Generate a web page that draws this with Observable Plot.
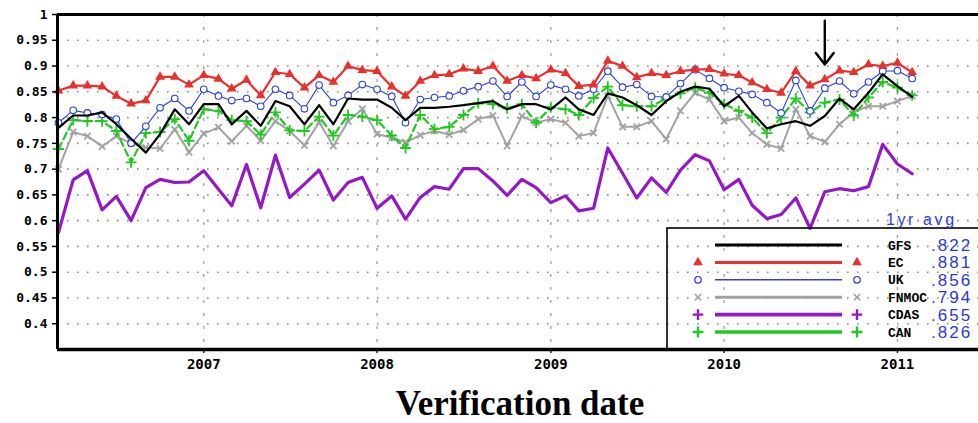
<!DOCTYPE html>
<html><head><meta charset="utf-8">
<script src="https://cdn.jsdelivr.net/npm/d3@7"></script>
<script src="https://cdn.jsdelivr.net/npm/@observablehq/plot@0.6"></script>
<style>
html,body{margin:0;padding:0;background:#fff;overflow:hidden;width:978px;height:423px}
#wrap{position:relative;width:978px;height:423px;overflow:hidden}
#chart{position:absolute;left:0;top:0;width:1000px}
#chart svg{max-width:none !important}
#legend{position:absolute;left:0;top:0;pointer-events:none}
#xlabel{position:absolute;left:0;width:1040px;top:386px;height:35px;text-align:center;font:bold 35px "Liberation Serif",serif;line-height:35px;color:#000;white-space:nowrap}
g[aria-label="y-axis tick label"] text{font-weight:bold;font-size:13px;font-family:"DejaVu Sans Mono",monospace}
g[aria-label="x-axis tick label"] text{font-weight:bold;font-size:14px;font-family:"DejaVu Sans Mono",monospace}
</style></head><body>
<div id="wrap"><div id="chart"></div><svg id="legend" width="978" height="423"></svg><div id="xlabel"></div></div>
<script>
// ---------- data ----------
const series = ["GFS", "EC", "UK", "FNMOC", "CDAS", "CAN"];
const avgValues = [".822", ".881", ".856", ".794", ".655", ".826"];
const xTickYears = [2007, 2008, 2009, 2010, 2011];
const yTicks = [0.4, 0.45, 0.5, 0.55, 0.6, 0.65, 0.7, 0.75, 0.8, 0.85, 0.9, 0.95, 1];
const xAxisLabel = "Verification date";
const legendHeader = "1yr avg";
const arrowMonth = [2010, 7];

const gfs = [.780,.804,.804,.810,.787,.759,.732,.768,.816,.787,
 .826,.826,.787,.813,.784,.832,.822,.787,.824,.787,
 .837,.835,.835,.819,.795,.819,.819,.821,.824,.828,
 .832,.816,.826,.826,.816,.839,.816,.805,.847,.839,
 .824,.805,.832,.850,.860,.856,.822,.842,.810,.779,
 .787,.793,.784,.803,.837,.816,.848,.884,.861,.840];
const ec = [.852,.862,.862,.860,.842,.827,.833,.879,.879,.864,
 .882,.875,.856,.873,.843,.888,.884,.858,.882,.869,
 .900,.892,.890,.860,.842,.871,.882,.884,.895,.890,
 .900,.871,.882,.876,.893,.886,.861,.864,.910,.900,
 .878,.886,.882,.890,.893,.894,.885,.882,.868,.855,
 .848,.890,.862,.874,.891,.888,.903,.900,.906,.888];
const uk = [.790,.814,.809,.806,.797,.750,.783,.819,.837,.813,
 .855,.842,.833,.837,.822,.855,.843,.817,.863,.829,
 .843,.864,.855,.841,.790,.835,.839,.842,.852,.860,
 .871,.841,.869,.841,.863,.855,.842,.855,.890,.859,
 .864,.841,.840,.866,.893,.876,.858,.851,.845,.829,
 .809,.872,.813,.857,.871,.846,.869,.890,.891,.876];
const fnmoc = [.700,.772,.764,.744,.764,.750,.742,.740,.777,.733,
 .769,.781,.754,.784,.755,.793,.774,.746,.791,.745,
 .793,.817,.768,.761,.752,.766,.774,.767,.776,.797,
 .804,.745,.803,.790,.797,.790,.764,.770,.842,.782,
 .782,.793,.758,.813,.848,.835,.793,.800,.770,.748,
 .740,.816,.764,.753,.787,.811,.822,.822,.832,.842];
const cdas = [.577,.679,.697,.621,.647,.600,.664,.680,.674,.675,
 .697,.661,.629,.709,.625,.727,.645,.671,.698,.640,
 .674,.684,.624,.648,.603,.645,.666,.661,.701,.701,
 .677,.649,.680,.664,.635,.648,.619,.624,.741,.692,
 .644,.683,.655,.698,.728,.716,.660,.680,.630,.604,
 .612,.644,.585,.656,.662,.658,.666,.748,.710,.691];
const can = [.739,.795,.793,.793,.774,.713,.770,.772,.797,.755,
 .816,.813,.795,.793,.767,.810,.775,.774,.802,.765,
 .805,.802,.795,.765,.741,.805,.778,.782,.805,.828,
 .826,.818,.826,.790,.820,.816,.805,.838,.860,.824,
 .822,.822,.837,.847,.858,.848,.826,.813,.800,.770,
 .800,.837,.810,.829,.835,.804,.839,.869,.858,.843];
const allValues = [gfs, ec, uk, fnmoc, cdas, can];

// ---------- build ----------
const months = d3.utcMonth.range(new Date(Date.UTC(2006, 2, 1)), new Date(Date.UTC(2011, 2, 1)));
const table = [];
series.forEach((s, k) => allValues[k].forEach((v, i) => table.push({series: s, date: months[i], value: v})));
const of = s => table.filter(d => d.series === s);
const xTicks = xTickYears.map(y => new Date(Date.UTC(y, 0, 1)));
const xDomain = [new Date(Date.UTC(2006, 1, 27)), new Date(Date.UTC(2011, 6, 16))];

const style = {
  GFS:   {color: "#000000", width: 2.2},
  EC:    {color: "#e8302c", width: 2.2, symbol: "triangle", r: 3.6, fill: true},
  UK:    {color: "#2840dc", width: 1.1, symbol: "circle", r: 3.3},
  FNMOC: {color: "#a2a2a2", width: 2, symbol: "times", r: 3},
  CDAS:  {color: "#9418c8", width: 3.2, symbol: "plus", r: 3.5},
  CAN:   {color: "#22c822", width: 2.2, symbol: "plus", r: 3.6, dash: "7,4"}
};

const lineMarks = [];
for (const s of ["FNMOC", "CDAS", "CAN", "UK", "EC", "GFS"]) {
  const st = style[s];
  lineMarks.push(Plot.line(of(s), {x: "date", y: "value", stroke: st.color, strokeWidth: st.width,
    strokeDasharray: st.dash || null, curve: "linear"}));
  if (st.symbol && s !== "CDAS") {
    if (st.fill) lineMarks.push(Plot.dot(of(s), {x: "date", y: "value", symbol: st.symbol, r: st.r, fill: st.color, stroke: "none"}));
    else if (st.symbol === "circle") lineMarks.push(Plot.dot(of(s), {x: "date", y: "value", symbol: "circle", r: st.r, fill: "white", stroke: st.color, strokeWidth: 1.1}));
    else lineMarks.push(Plot.dot(of(s), {x: "date", y: "value", symbol: st.symbol, r: st.r, stroke: st.color, strokeWidth: 1.8}));
  }
}

const fmtY = d => String(+d.toFixed(2));
const chart = Plot.plot({
  width: 1000, height: 376,
  marginLeft: 57, marginRight: 10, marginTop: 14, marginBottom: 27,
  style: {background: "transparent", fontFamily: "'DejaVu Sans Mono', monospace", overflow: "visible", color: "#000", maxWidth: "none"},
  x: {type: "utc", domain: xDomain, label: null},
  y: {domain: [0.35, 1], label: null},
  marks: [
    Plot.gridY(yTicks.filter(t => t < 1), {stroke: "#8c8c8c", strokeOpacity: 1, strokeDasharray: "1.6,8.4", strokeWidth: 1.6}),
    Plot.gridX(xTicks, {stroke: "#a0a0a0", strokeOpacity: 1, strokeDasharray: "3,10", strokeWidth: 1.3}),
    ...lineMarks,
    Plot.arrow([{date: new Date(Date.UTC(arrowMonth[0], arrowMonth[1], 1)), y1: 0.988, y2: 0.903}],
      {x1: "date", x2: "date", y1: "y1", y2: "y2", stroke: "black", strokeWidth: 2.4, headLength: 14, headAngle: 75}),
    Plot.axisY(yTicks, {tickSize: 5, tickPadding: 5, tickFormat: fmtY, strokeWidth: 1.5, label: null}),
    Plot.axisX(xTicks, {tickSize: 4, tickPadding: 6, tickFormat: d3.utcFormat("%Y"), strokeWidth: 1.3, label: null}),
    Plot.ruleY([0.35], {stroke: "black", strokeWidth: 3.5}),
    Plot.ruleY([1], {stroke: "black", strokeWidth: 3}),
    Plot.ruleX([xDomain[0]], {stroke: "black", strokeWidth: 3})
  ]
});
document.getElementById("chart").appendChild(chart);
document.getElementById("xlabel").textContent = xAxisLabel;

// ---------- legend (inside plot, lower right) ----------
const lg = d3.select("#legend");
lg.append("rect").attr("x", 667).attr("y", 228).attr("width", 330).attr("height", 121)
  .attr("fill", "none").attr("stroke", "#000").attr("stroke-width", 1.6);
lg.append("text").attr("x", 886).attr("y", 225).text(legendHeader)
  .attr("fill", "#2a3ad8").attr("font-family", "'Liberation Sans', sans-serif").attr("font-size", 16).attr("letter-spacing", 2.6);
series.forEach((s, k) => {
  const st = style[s];
  const y = 245 + k * 17.4;
  lg.append("line").attr("x1", 715).attr("x2", 842).attr("y1", y).attr("y2", y)
    .attr("stroke", st.color).attr("stroke-width", s === "UK" ? 1.6 : s === "CDAS" || s === "CAN" ? 3.6 : 3);
  if (st.symbol) {
    const sym = {triangle: d3.symbolTriangle, circle: d3.symbolCircle, times: d3.symbolTimes, plus: d3.symbolPlus}[st.symbol];
    const path = d3.symbol(sym, Math.PI * st.r * st.r)();
    for (const x of [698, 857]) {
      const p = lg.append("path").attr("d", path).attr("transform", `translate(${x},${y})`);
      if (st.fill) p.attr("fill", st.color);
      else if (st.symbol === "circle") p.attr("fill", "white").attr("stroke", st.color).attr("stroke-width", 1.2);
      else p.attr("fill", "none").attr("stroke", st.color).attr("stroke-width", s === "CDAS" || s === "CAN" ? 2.4 : 1.5);
    }
  }
  lg.append("text").attr("x", 888).attr("y", y + 4.5).text(s)
    .attr("font-family", "'Liberation Mono', monospace").attr("font-weight", "bold").attr("font-size", 13).attr("fill", "#000");
  lg.append("text").attr("x", 931).attr("y", y + 6).text(avgValues[k])
    .attr("font-family", "'Liberation Sans', sans-serif").attr("font-size", 17).attr("letter-spacing", 2).attr("fill", "#2a3ad8");
});
</script>
</body></html>
